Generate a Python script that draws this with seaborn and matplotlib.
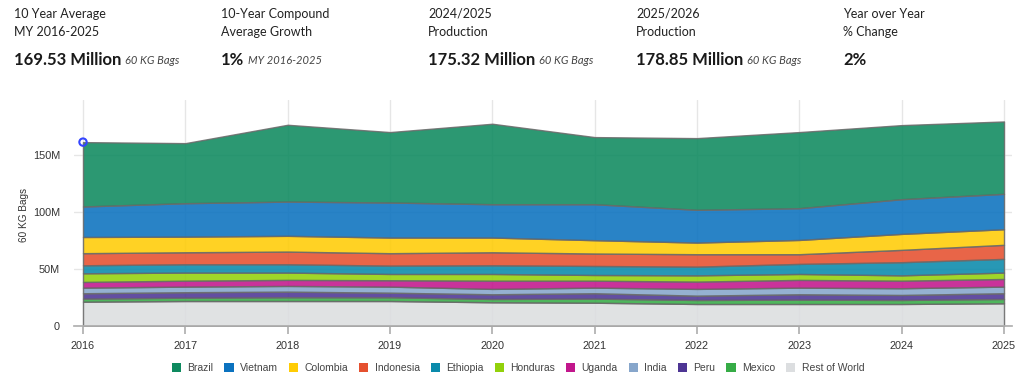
import matplotlib
matplotlib.use("Agg")
import matplotlib.pyplot as plt
import matplotlib.ticker as mticker
from matplotlib.patches import Patch
import numpy as np
import pandas as pd
import seaborn as sns

sns.set_theme(style="white")
plt.rcParams["font.family"] = ["Liberation Sans", "DejaVu Sans"]

years = [2016, 2017, 2018, 2019, 2020, 2021, 2022, 2023, 2024, 2025]

# production, million 60 kg bags
brazil = [56.4, 52.6, 67.3, 61.7, 70.5, 58.8, 62.8, 66.7, 64.9, 63.4]
vietnam = [26.7, 29.3, 30.0, 30.7, 29.2, 31.5, 28.7, 27.8, 30.4, 31.0]
colombia = [14.2, 13.7, 13.8, 13.7, 12.9, 11.7, 10.2, 12.5, 14.0, 13.7]
indonesia = [10.6, 10.5, 11.1, 10.9, 11.4, 10.9, 10.9, 8.5, 10.8, 12.3]
ethiopia = [7.0, 7.3, 7.3, 7.3, 7.6, 7.9, 7.6, 8.8, 11.5, 12.0]
honduras = [7.6, 7.1, 6.4, 5.5, 5.9, 5.0, 5.5, 5.2, 4.7, 5.6]
uganda = [5.0, 5.2, 5.3, 5.6, 7.2, 6.1, 6.4, 6.8, 6.6, 6.7]
india = [4.9, 4.9, 5.0, 5.3, 4.7, 4.9, 5.9, 5.8, 5.9, 5.8]
peru = [4.7, 4.8, 4.9, 4.0, 4.1, 4.7, 3.8, 4.7, 4.4, 5.0]
mexico = [2.7, 2.9, 3.3, 3.3, 2.9, 3.6, 3.5, 3.8, 3.5, 3.8]
rest_of_world = [21.3, 21.9, 21.9, 21.9, 20.8, 20.4, 19.3, 19.3, 19.3, 19.9]

countries = ["Brazil", "Vietnam", "Colombia", "Indonesia", "Ethiopia", "Honduras",
             "Uganda", "India", "Peru", "Mexico", "Rest of World"]
series = [brazil, vietnam, colombia, indonesia, ethiopia, honduras,
          uganda, india, peru, mexico, rest_of_world]
fill_colors = ["#0e8a5f", "#0b72bf", "#ffcc05", "#e5502f", "#0a8aab", "#92d10b",
               "#c2168c", "#87a6cb", "#4d3594", "#36ac46", "#dcdee0"]

stats_labels = [("10 Year Average", "MY 2016-2025"), ("10-Year Compound", "Average Growth"),
                ("2024/2025", "Production"), ("2025/2026", "Production"),
                ("Year over Year", "% Change")]
stats_values = ["169.53 Million", "1%", "175.32 Million", "178.85 Million", "2%"]
stats_units = ["60 KG Bags", "MY 2016-2025", "60 KG Bags", "60 KG Bags", ""]

df = pd.DataFrame({c: np.array(v) * 1e6 for c, v in zip(countries, series)}, index=years)

fig = plt.figure(figsize=(10.24, 3.86), dpi=100)
ax = fig.add_axes([74 / 1024, 60 / 386, 938 / 1024, 226 / 386])

# stack from the bottom: Rest of World first, Brazil on top
order = countries[::-1]
ax.stackplot(df.index, [df[c].values for c in order],
             colors=fill_colors[::-1], alpha=0.88,
             edgecolor="#6b6b6b", linewidth=1.0, zorder=2)

ax.set_xlim(2016 - 9 / 102.3, 2025 + 8 / 102.3)
ax.set_ylim(0, 198e6)
ax.set_xticks(years)
ax.set_yticks([0, 50e6, 100e6, 150e6])
ax.yaxis.set_major_formatter(mticker.FuncFormatter(lambda v, p: "0" if v == 0 else f"{v / 1e6:.0f}M"))
ax.grid(True, color="#e6e6e6", linewidth=1, zorder=0)
ax.set_axisbelow(True)
for s in ["top", "right", "left"]:
    ax.spines[s].set_visible(False)
ax.spines["bottom"].set_color("#b0b0b0")
ax.tick_params(axis="x", length=6, color="#b0b0b0", labelsize=7.8, labelcolor="#333333", pad=5, direction="out", bottom=True)
ax.tick_params(axis="y", length=0, labelsize=7.8, labelcolor="#333333", pad=10)
ax.set_ylabel("60 KG Bags", fontsize=7.2, color="#333333")
ax.yaxis.set_label_coords(-0.048, 0.49)

# hover marker at first point of the total
total = df.sum(axis=1)
sns.scatterplot(x=[years[0]], y=[total.iloc[0]], ax=ax, s=28, facecolor="none",
                edgecolor="#3344ff", linewidth=1.5, zorder=5, clip_on=False)

handles = [Patch(facecolor=c, edgecolor="none") for c in fill_colors]
fig.legend(handles, countries, loc="center", bbox_to_anchor=(518 / 1024, 18 / 386), ncol=len(countries),
           frameon=False, fontsize=7.5, handlelength=0.9, handleheight=0.9,
           handletextpad=0.6, columnspacing=1.05, labelcolor="#444444")

col_x = [14, 221, 428, 636, 843]
hfont = ["Lato", "DejaVu Sans"]
for x, (l1, l2), val, unit in zip(col_x, stats_labels, stats_values, stats_units):
    fig.text(x / 1024, 1 - 14 / 386, l1, fontsize=9, color="#222222", va="center", family=hfont)
    fig.text(x / 1024, 1 - 32 / 386, l2, fontsize=9, color="#222222", va="center", family=hfont)
    t = fig.text(x / 1024, 1 - 60 / 386, val, fontsize=12, fontweight="bold", color="#1a1a1a",
                 va="center", family=hfont)
    if unit:
        fig.canvas.draw()
        bb = t.get_window_extent()
        fig.text((bb.x1 + 4) / 1024, 1 - 61 / 386, unit, fontsize=8, style="italic",
                 color="#444444", va="center", family=hfont)

fig.savefig("out.png", dpi=100)
